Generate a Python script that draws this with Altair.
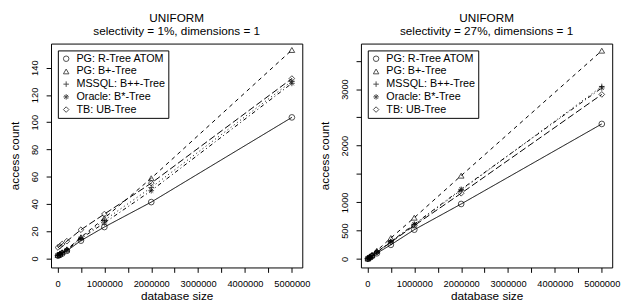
import altair as alt
import pandas as pd

series = ["PG: R-Tree ATOM", "PG: B+-Tree", "MSSQL: B++-Tree", "Oracle: B*-Tree", "TB: UB-Tree"]
sizes = [10000, 50000, 100000, 200000, 500000, 1000000, 2000000, 5000000]

# selectivity = 1%
left_rtree = [2, 2.5, 3.5, 5.5, 13, 23, 41.3, 103.5]
left_bplus = [2.5, 3.5, 4.5, 6.5, 15.5, 29.5, 58.8, 153]
left_mssql = [2, 3, 4, 6.5, 15, 28, 52, 130]
left_oracle = [2, 3, 4, 6, 14.5, 26, 49.7, 128.5]
left_tb = [8, 9, 10.5, 12.6, 21, 32.5, 55.2, 132]

# selectivity = 27%
right_rtree = [5, 25, 50, 100, 250, 517, 971, 2384]
right_bplus = [7, 36, 73, 146, 370, 729, 1471, 3678]
right_mssql = [6, 30, 60, 121, 305, 605, 1215, 3045]
right_oracle = [6, 30, 61, 122, 305, 614, 1229, 3020]
right_tb = [6, 29, 58, 117, 295, 590, 1160, 2905]

x_ticks = [0, 500000, 1000000, 1500000, 2000000, 2500000, 3000000, 3500000, 4000000, 4500000, 5000000]
left_y_ticks = [0, 20, 40, 60, 80, 100, 120, 140]
right_y_ticks = [0, 500, 1000, 1500, 2000, 2500, 3000, 3500]

shapes = [
    "circle",
    "triangle-up",
    "M-1,0L1,0M0,-1L0,1",
    "M-1,0L1,0M0,-1L0,1M-0.7,-0.7L0.7,0.7M-0.7,0.7L0.7,-0.7",
    "diamond",
]
# line types in series order: solid, dashed, dotted, dotdash, longdash
dashes = [[1, 0], [4, 4], [1, 3], [1, 3, 4, 3], [7, 3]]


def make_df(cols):
    rows = []
    for i, (name, vals) in enumerate(zip(series, cols)):
        for s, v in zip(sizes, vals):
            rows.append({"series": name, "lty": i, "size": s, "count": v})
    return pd.DataFrame(rows)


def panel(cols, subtitle, ydomain, yticks, ylabel_expr, w, h):
    df = make_df(cols)
    x = alt.X(
        "size:Q",
        scale=alt.Scale(domain=[-138000, 5222000], nice=False, zero=False),
        axis=alt.Axis(
            values=x_ticks,
            format="d",
            labelExpr="datum.value % 1000000 == 0 ? datum.label : ''",
            title="database size",
        ),
    )
    y = alt.Y(
        "count:Q",
        scale=alt.Scale(domain=ydomain, nice=False, zero=False),
        axis=alt.Axis(values=yticks, format="d", labelAngle=-90, labelExpr=ylabel_expr, title="access count"),
    )
    base = alt.Chart(df)
    lines = base.mark_line(color="black", strokeWidth=1).encode(
        x=x,
        y=y,
        strokeDash=alt.StrokeDash("lty:N", scale=alt.Scale(range=dashes), legend=None),
    )
    pts = base.mark_point(filled=False, color="black", size=34, strokeWidth=1).encode(
        x=x,
        y=y,
        shape=alt.Shape(
            "series:N",
            scale=alt.Scale(domain=series, range=shapes),
            legend=alt.Legend(
                title=None,
                orient="top-left",
                offset=7,
                padding=3,
                strokeColor="black",
                fillColor="white",
                labelFontSize=11,
                labelLimit=300,
                rowPadding=1,
                symbolSize=32,
                symbolStrokeWidth=1,
                symbolStrokeColor="black",
                labelOffset=5,
            ),
        ),
    )
    return alt.layer(lines, pts).properties(
        width=w,
        height=h,
        title=alt.TitleParams(
            text="UNIFORM",
            subtitle=subtitle,
            anchor="middle",
            frame="group",
            fontSize=12,
            subtitleFontSize=12,
            fontWeight="normal",
            color="black",
            subtitleColor="black",
            subtitlePadding=1,
            offset=6,
        ),
    )


left = panel(
    [left_rtree, left_bplus, left_mssql, left_oracle, left_tb],
    "selectivity = 1%, dimensions = 1",
    [-6.7, 157.7],
    left_y_ticks,
    "datum.label",
    257,
    229,
)
right = panel(
    [right_rtree, right_bplus, right_mssql, right_oracle, right_tb],
    "selectivity = 27%, dimensions = 1",
    [-150, 3803],
    right_y_ticks,
    "(datum.value == 1500 || datum.value == 2500 || datum.value == 3500) ? '' : datum.label",
    257,
    229,
)

chart = (
    alt.hconcat(left, right, spacing=7)
    .resolve_scale(x="independent", y="independent", shape="independent")
    .resolve_legend(shape="independent")
    .properties(padding={"left": 0, "top": 0, "right": 0, "bottom": 0})
    .configure(font="Liberation Sans")
    .configure_view(stroke="black", strokeWidth=1)
    .configure_axis(
        grid=False,
        domain=False,
        tickColor="black",
        tickSize=5,
        tickWidth=1,
        labelColor="black",
        labelFontSize=9.5,
        titleColor="black",
        titleFontSize=12,
        titleFontWeight="normal",
    )
    .configure_axisX(labelPadding=6, titlePadding=3)
    .configure_axisY(labelPadding=7, titlePadding=8)
)

chart.save("out.html", embed_options={"renderer": "svg", "actions": False})
